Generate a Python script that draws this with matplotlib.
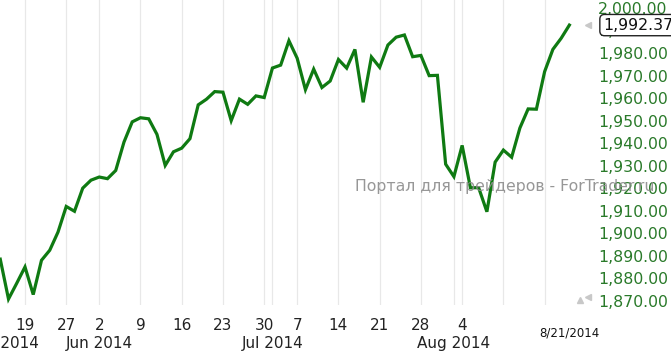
import matplotlib
matplotlib.use("Agg")
import matplotlib.pyplot as plt
from matplotlib.transforms import blended_transform_factory

dates = ["2014-05-14", "2014-05-15", "2014-05-16",
         "2014-05-19", "2014-05-20", "2014-05-21", "2014-05-22", "2014-05-23",
         "2014-05-27", "2014-05-28", "2014-05-29", "2014-05-30",
         "2014-06-02", "2014-06-03", "2014-06-04", "2014-06-05", "2014-06-06",
         "2014-06-09", "2014-06-10", "2014-06-11", "2014-06-12", "2014-06-13",
         "2014-06-16", "2014-06-17", "2014-06-18", "2014-06-19", "2014-06-20",
         "2014-06-23", "2014-06-24", "2014-06-25", "2014-06-26", "2014-06-27",
         "2014-06-30", "2014-07-01", "2014-07-02", "2014-07-03",
         "2014-07-07", "2014-07-08", "2014-07-09", "2014-07-10", "2014-07-11",
         "2014-07-14", "2014-07-15", "2014-07-16", "2014-07-17", "2014-07-18",
         "2014-07-21", "2014-07-22", "2014-07-23", "2014-07-24", "2014-07-25",
         "2014-07-28", "2014-07-29", "2014-07-30", "2014-07-31", "2014-08-01",
         "2014-08-04", "2014-08-05", "2014-08-06", "2014-08-07", "2014-08-08",
         "2014-08-11", "2014-08-12", "2014-08-13", "2014-08-14", "2014-08-15",
         "2014-08-18", "2014-08-19", "2014-08-20", "2014-08-21"]
closes = [1888.53, 1870.85, 1877.86,
          1885.08, 1872.83, 1888.03, 1892.49, 1900.53,
          1911.91, 1909.78, 1920.03, 1923.57,
          1924.97, 1924.24, 1927.88, 1940.46, 1949.44,
          1951.27, 1950.79, 1943.89, 1930.11, 1936.16,
          1937.78, 1941.99, 1956.98, 1959.48, 1962.87,
          1962.61, 1949.98, 1959.53, 1957.22, 1960.96,
          1960.23, 1973.32, 1974.62, 1985.44,
          1977.65, 1963.71, 1972.83, 1964.68, 1967.57,
          1977.10, 1973.28, 1981.57, 1958.12, 1978.22,
          1973.63, 1983.53, 1987.01, 1987.98, 1978.34,
          1978.91, 1969.95, 1970.07, 1930.67, 1925.15,
          1938.99, 1920.21, 1920.24, 1909.57, 1931.59,
          1936.92, 1933.75, 1946.72, 1955.18, 1955.06,
          1971.74, 1981.60, 1986.51, 1992.37]

week_tick_dates = ["2014-05-19", "2014-05-27", "2014-06-02", "2014-06-09", "2014-06-16",
                   "2014-06-23", "2014-06-30", "2014-07-07", "2014-07-14", "2014-07-21",
                   "2014-07-28", "2014-08-04", "2014-08-11", "2014-08-18"]
week_tick_labels = ["19", "27", "2", "9", "16", "23", "30", "7", "14", "21", "28", "4", "", ""]
month_dates = ["2014-05-14", "2014-06-02", "2014-07-01", "2014-08-01"]
month_labels = ["May 2014", "Jun 2014", "Jul 2014", "Aug 2014"]
y_ticks = [1870, 1880, 1890, 1900, 1910, 1920, 1930, 1940, 1950, 1960, 1970, 1980, 1990, 2000]
last_date_label = "8/21/2014"
watermark = "Портал для трейдеров - ForTrader.ru"

W, H = 671, 351
fig = plt.figure(figsize=(W / 100, H / 100), dpi=100)
ax = fig.add_axes([0, 46 / H, 590 / W, 305 / H])

idx = {d: i for i, d in enumerate(dates)}
x = list(range(len(dates)))

ax.plot(x, closes, color="#0f7a12", lw=2.3, solid_joinstyle="miter", zorder=3)

ax.set_xlim(-0.03, 71.5)
ax.set_ylim(1868.2, 2003.5)

for s in ax.spines.values():
    s.set_visible(False)

# vertical grid lines: weekly and month starts
grid_pos = sorted(set([idx[d] for d in week_tick_dates] + [idx[d] for d in month_dates[1:]]))
for g in grid_pos:
    ax.axvline(g, color="#e8e8e8", lw=0.9, zorder=1)

ax.set_xticks([idx[d] for d in week_tick_dates])
ax.set_xticklabels(week_tick_labels, fontsize=11, color="#222222")
ax.tick_params(axis="x", length=0, pad=9.5)

trans = blended_transform_factory(ax.transData, ax.transAxes)
for d, lab in zip(month_dates, month_labels):
    xi = idx[d] if d != "2014-05-14" else 0.2
    ax.text(xi, -0.127, lab, transform=trans, ha="center", va="center",
            fontsize=11, color="#222222", clip_on=False)

ax.text(len(dates) - 1, -0.092, last_date_label, transform=trans, ha="center", va="center",
        fontsize=8.5, color="#111111", clip_on=False)

ax.yaxis.tick_right()
ax.set_yticks(y_ticks)
ax.set_yticklabels([f"{v:,.2f}" for v in y_ticks], fontsize=11.3, color="#2a7a2a")
ax.tick_params(axis="y", length=0, pad=6)

# last value box
trans_y = blended_transform_factory(ax.transAxes, ax.transData)
ax.text(1.022, closes[-1], f"{closes[-1]:,.2f}", transform=trans_y, ha="left", va="center",
        fontsize=11.3, color="#111111", zorder=10, clip_on=False,
        bbox=dict(boxstyle="round,pad=0.2,rounding_size=0.3", fc="white", ec="#222222", lw=1.0))
ax.plot([0.997], [closes[-1]], marker="<", ms=5, color="#c8c8c8", transform=trans_y, clip_on=False)

# small navigation markers
ax.plot([0.983], [0.015], marker="^", ms=4, color="#c8c8c8", transform=ax.transAxes, clip_on=False)
ax.plot([0.997], [0.025], marker="<", ms=4, color="#c8c8c8", transform=ax.transAxes, clip_on=False)

fig.text(355 / W, 1 - 186 / H, watermark, ha="left", va="center", fontsize=11.3,
         color="#8c8c8c", alpha=0.9, zorder=2)

fig.savefig("out.png", dpi=100)
